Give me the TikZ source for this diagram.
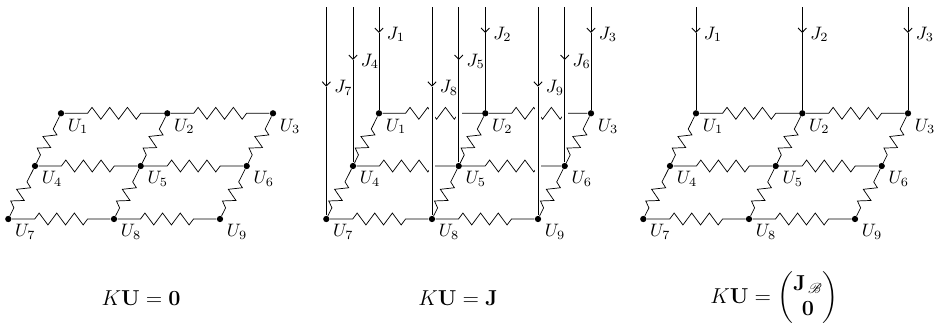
\documentclass[tikz,border=0pt]{standalone}
\usepackage{amsmath}
\usepackage{mathrsfs}
\usetikzlibrary{calc,arrows.meta}
\tikzset{
  dot/.style={circle,fill=black,inner sep=0pt,minimum size=3.5pt},
  spring/.style={line width=.6pt,line join=miter},
  hres/.style={spring,to path={
    -- ($(\tikztostart)!.25!(\tikztotarget)$)
    -- ($(\tikztostart)!.2917!(\tikztotarget)!3.3pt!90:(\tikztotarget)$)
    -- ($(\tikztostart)!.375!(\tikztotarget)!3.3pt!-90:(\tikztotarget)$)
    -- ($(\tikztostart)!.4583!(\tikztotarget)!3.3pt!90:(\tikztotarget)$)
    -- ($(\tikztostart)!.5417!(\tikztotarget)!3.3pt!-90:(\tikztotarget)$)
    -- ($(\tikztostart)!.625!(\tikztotarget)!3.3pt!90:(\tikztotarget)$)
    -- ($(\tikztostart)!.7083!(\tikztotarget)!3.3pt!-90:(\tikztotarget)$)
    -- ($(\tikztostart)!.75!(\tikztotarget)$)
    -- (\tikztotarget)}},
  dres/.style={spring,to path={
    -- ($(\tikztostart)!.30!(\tikztotarget)$)
    -- ($(\tikztostart)!.36!(\tikztotarget)!3.3pt!90:(\tikztotarget)$)
    -- ($(\tikztostart)!.49!(\tikztotarget)!3.3pt!-90:(\tikztotarget)$)
    -- ($(\tikztostart)!.60!(\tikztotarget)!3.3pt!90:(\tikztotarget)$)
    -- ($(\tikztostart)!.71!(\tikztotarget)!3.3pt!-90:(\tikztotarget)$)
    -- ($(\tikztostart)!.79!(\tikztotarget)$)
    -- (\tikztotarget)}},
  jline/.style={line width=.5pt},
  jgap/.style={white,line width=3.55pt},
  eqn/.style={font=\large}
}
\begin{document}
\begin{tikzpicture}[x=.5556pt,y=.5556pt,>={Straight Barb[length=2.4pt,width=4.6pt]}]
  \useasboundingbox (0,0) rectangle (936,325);

  % three grids: a left, b middle, c right
  \foreach \g/\sx in {a/0,b/318,c/635}{
    \foreach \n/\x/\y in {1/61/211.7,2/167.3/211.7,3/273/211.7,
                          4/35/159,5/140.7/159,6/246.7/159,
                          7/8.3/106,8/114/106,9/220/106}{
      \node[dot] (\g\n) at (\x+\sx,\y) {};
      \node (\g l\n) at (\x+\sx+17,\y-13) {$U_\n$};
    }
    % springs
    \foreach \p/\q in {1/2,2/3,4/5,5/6,7/8,8/9}
      \draw (\g\p) to[hres] (\g\q);
    \foreach \p/\q in {1/4,2/5,3/6,4/7,5/8,6/9}
      \draw (\g\p) to[dres] (\g\q);
  }

  % gaps where the loads pass the springs
  \foreach \j/\r in {8/1,8/4,5/1,9/2,9/5,6/2}{
    \coordinate (gap\j\r) at (b\j |- b\r);
    \draw[jgap] ([yshift=5pt]gap\j\r) -- ([yshift=-5pt]gap\j\r);
  }

  % loads, middle grid
  \foreach \n/\t in {1/292,2/292,3/292,4/265,5/265,6/265,7/238.3,8/238.3,9/238.3}{
    \coordinate (bt\n) at (b\n |- 0,318);
    \coordinate (bh\n) at (b\n |- 0,\t);
    \draw[->,jline] (bt\n) -- (bh\n);
    \draw[jline] (bh\n) -- (b\n);
    \node (bj\n) at ([xshift=17*.5556pt,yshift=-1.3*.5556pt]bh\n) {$J_\n$};
  }

  % loads, right grid
  \foreach \n in {1,2,3}{
    \coordinate (ct\n) at (c\n |- 0,318);
    \coordinate (ch\n) at (c\n |- 0,292);
    \draw[->,jline] (ct\n) -- (ch\n);
    \draw[jline] (ch\n) -- (c\n);
    \node (cj\n) at ([xshift=17*.5556pt,yshift=-1.3*.5556pt]ch\n) {$J_\n$};
  }

  % equations
  \node[eqn] (eqa) at (141,26.5) {$K\mathbf{U}=\mathbf{0}$};
  \node[eqn] (eqb) at (458,26.5) {$K\mathbf{U}=\mathbf{J}$};
  \node[eqn] (eqc) at (774.5,27) {$K\mathbf{U}=\begin{pmatrix}\mathbf{J}_{\,\mathscr{B}}\\ \mathbf{0}\end{pmatrix}$};
\end{tikzpicture}
\end{document}
